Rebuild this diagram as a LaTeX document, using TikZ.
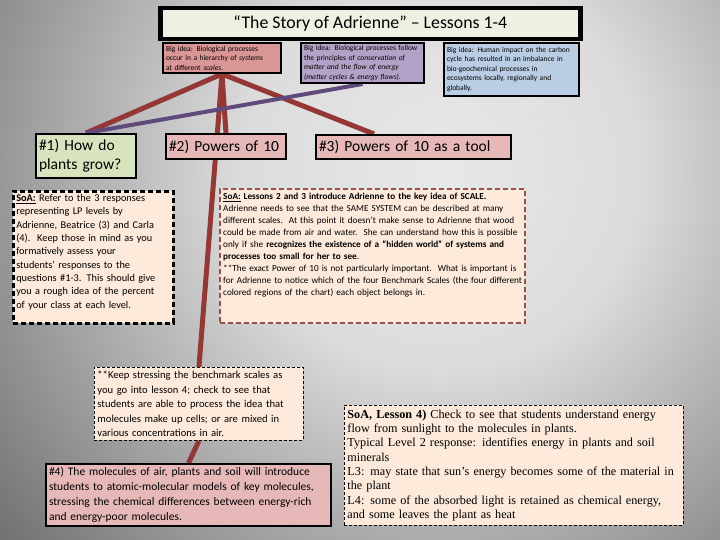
\documentclass[tikz,border=0pt]{standalone}
\usepackage{fontspec}
\setmainfont{Carlito}
\newfontfamily\boxserif{Liberation Serif}
\usetikzlibrary{calc,backgrounds}
\pgfdeclarelayer{back}
\pgfsetlayers{back,background,main}
\hyphenpenalty=10000
\exhyphenpenalty=10000
\definecolor{bgin}{HTML}{E8E8E8}
\definecolor{bgmid}{HTML}{DCDCDC}
\definecolor{bgout}{HTML}{646464}
\definecolor{titlefill}{HTML}{EEF0E2}
\definecolor{bonefill}{HTML}{D99694}
\definecolor{btwofill}{HTML}{B3A2C7}
\definecolor{bthreefill}{HTML}{B9CDE5}
\definecolor{greenfill}{HTML}{D7E4BD}
\definecolor{pinkfill}{HTML}{E6B9B8}
\definecolor{peach}{HTML}{FDEADA}
\definecolor{maroon}{HTML}{953735}
\definecolor{purp}{HTML}{604A7B}
\definecolor{dashmaroon}{HTML}{9B4F4D}
\pgfdeclareradialshading{bgshade}{\pgfpoint{0bp}{0bp}}{color(0bp)=(bgin); color(8bp)=(bgmid); color(25bp)=(bgout); color(50bp)=(bgout)}
\tikzset{
  solidbox/.style={draw=black, line width=2pt, anchor=north west, align=left, inner xsep=3pt, inner ysep=0pt},
  dashbox/.style={draw=black, line width=0.9pt, dash pattern=on 3pt off 2pt, fill=peach, anchor=north west, align=left, inner xsep=3pt, inner ysep=0pt},
  bigidea/.style={solidbox, font=\fontsize{7.5}{9.5}\selectfont},
  lessonhead/.style={solidbox, font=\fontsize{15.5}{19}\selectfont},
  conn/.style={draw=maroon, line width=5pt},
  connp/.style={draw=purp, line width=4pt},
}
\begin{document}
\begin{tikzpicture}[x=1pt,y=-1pt]
\useasboundingbox (0,0) rectangle (720,540);
\begin{pgfonlayer}{back}
\begin{scope}
\clip (0,0) rectangle (720,540);
\fill[bgout] (0,0) rectangle (720,540);
\shade[shading=bgshade] (440,170) circle (620pt);
\end{scope}
\end{pgfonlayer}

% title
\node[solidbox, line width=4.5pt, fill=titlefill, align=center, inner xsep=0pt,
  minimum width=420pt, minimum height=31pt, font=\fontsize{17.8}{20}\selectfont] (title) at (158,6)
  {“The Story of Adrienne” – Lessons 1-4};

% big ideas
\node[bigidea, fill=bonefill, text width=112pt, minimum height=30pt] (b1) at (162,42)
  {Big idea: Biological processes\\
   occur in a hierarchy of \textit{systems}\\
   at different \textit{scales}.};
\node[bigidea, fill=btwofill, text width=117pt, minimum height=40pt] (b2) at (300,42)
  {Big idea: Biological processes follow\\
   the principles of \textit{conservation of}\\
   \textit{matter and the flow of energy}\\
   \textit{(matter cycles \& energy flows)}.};
\node[bigidea, fill=bthreefill, text width=129pt, minimum height=53pt] (b3) at (443,42)
  {Big idea: Human impact on the carbon\\
   cycle has resulted in an imbalance in\\
   bio-geochemical processes in\\
   ecosystems locally, regionally and\\
   globally.};

% lesson heads
\node[lessonhead, fill=greenfill, text width=94pt, minimum height=44pt] (q1) at (35,133)
  {\#1) How do\\ plants grow?};
\node[lessonhead, fill=pinkfill, text width=114pt, minimum height=25pt] (q2) at (165,133)
  {\#2) Powers of 10};
\node[lessonhead, fill=pinkfill, text width=189pt, minimum height=24pt] (q3) at (315,134)
  {\#3) Powers of 10 as a tool};

% SoA boxes
\node[dashbox, line width=2.6pt, dash pattern=on 5pt off 3pt, text width=154pt, minimum height=132pt,
  font=\fontsize{10.3}{13.3}\selectfont] (s1) at (12,190)
  {\textbf{\underline{SoA:}} Refer to the 3 responses\\
   representing LP levels by\\
   Adrienne, Beatrice (3) and Carla\\
   (4).\ \ Keep those in mind as you\\
   formatively assess your\\
   students’ responses to the\\
   questions \#1-3. This should give\\
   you a rough idea of the percent\\
   of your class at each level.\rule[-12pt]{0pt}{12pt}};
\node[dashbox, draw=dashmaroon, line width=2.4pt, dash pattern=on 5pt off 3pt, text width=299pt, minimum height=134pt,
  font=\fontsize{9.2}{12}\selectfont] (s2) at (219,188)
  {\textbf{\underline{SoA:} Lessons 2 and 3 introduce Adrienne to the key idea of SCALE.}\\
   Adrienne needs to see that the SAME SYSTEM can be described at many\\
   different scales.\ \ At this point it doesn’t make sense to Adrienne that wood\\
   could be made from air and water.\ \ She can understand how this is possible\\
   only if she \textbf{recognizes the existence of a “hidden world” of systems and}\\
   \textbf{processes too small for her to see}.\\
   {}**The exact Power of 10 is not particularly important.\ \ What is important is\\
   for Adrienne to notice which of the four Benchmark Scales (the four different\\
   colored regions of the chart) each object belongs in.\rule[-24pt]{0pt}{24pt}};

% lesson 4 note
\node[dashbox, text width=203pt, minimum height=73pt, font=\fontsize{10.6}{14.6}\selectfont] (note) at (94,367)
  {{}**Keep stressing the benchmark scales as\\
   you go into lesson 4; check to see that\\
   students are able to process the idea that\\
   molecules make up cells; or are mixed in\\
   various concentrations in air.};

% #4
\node[solidbox, fill=pinkfill, text width=279pt, minimum height=62pt, font=\fontsize{11.5}{15}\selectfont] (q4) at (45,463)
  {\#4) The molecules of air, plants and soil will introduce\\
   students to atomic-molecular models of key molecules,\\
   stressing the chemical differences between energy-rich\\
   and energy-poor molecules.};

% right SoA lesson 4
\node[dashbox, text width=333pt, minimum height=120pt, font=\boxserif\fontsize{12.2}{14.3}\selectfont] (r4) at (344,405)
  {\textbf{SoA, Lesson 4)} Check to see that students understand energy\\
   flow from sunlight to the molecules in plants.\\
   Typical Level 2 response: identifies energy in plants and soil\\
   minerals\\
   L3: may state that sun’s energy becomes some of the material in\\
   the plant\\
   L4: some of the absorbed light is retained as chemical energy,\\
   and some leaves the plant as heat};

% connectors
\begin{pgfonlayer}{background}
\draw[conn] (b1.south) -- (q1.north);
\draw[conn] (b1.south) -- (q2.north);
\draw[conn] (b1.south) -- ($(q3.north west)!0.3!(q3.north east)$);
\draw[conn] (b1.south) -- (note.north);
\draw[conn] (note.south) -- (q4.north);
\draw[connp] (b2.south) -- (q1.north);
\end{pgfonlayer}
\end{tikzpicture}
\end{document}
